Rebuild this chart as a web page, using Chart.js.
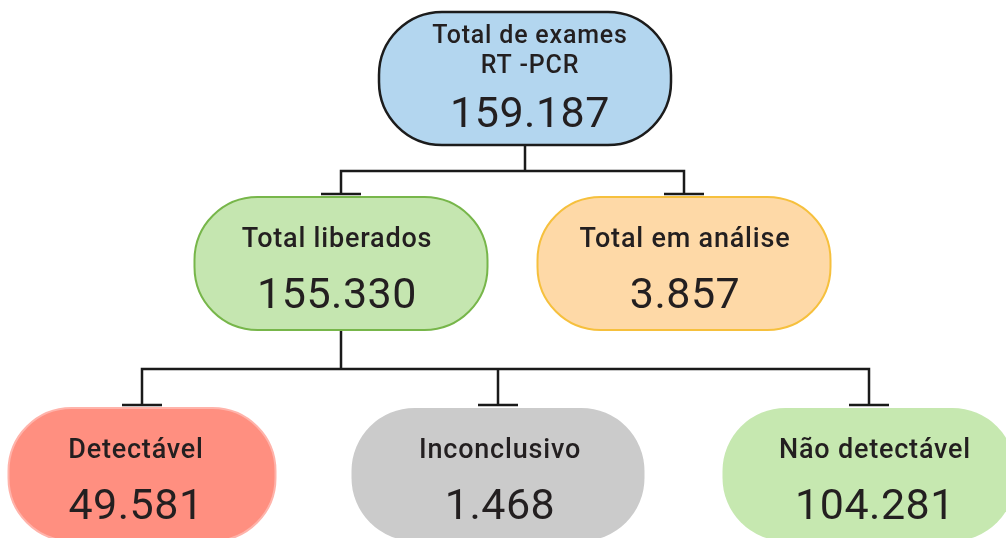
<!DOCTYPE html>
<html>
<head>
<meta charset="utf-8">
<script src="https://cdn.jsdelivr.net/npm/chart.js@4.4.0/dist/chart.umd.min.js"></script>
<style>
html, body { margin: 0; padding: 0; background: #fff; }
#wrap { width: 1006px; height: 538px; }
</style>
</head>
<body>
<div id="wrap"><canvas id="tree"></canvas></div>
<script>
// data
var nodeTitles = [['Total de exames', 'RT -PCR'], ['Total liberados'], ['Total em análise'], ['Detectável'], ['Inconclusivo'], ['Não detectável']];
var nodeValues = [159187, 155330, 3857, 49581, 1468, 104281];
var nodeParents = [-1, 0, 0, 1, 1, 1];

// layout (axis units = pixels of the 1006x538 area)
var nodeX = [525, 341, 684, 142, 498, 869];
var levelY = [78.5, 263.5, 474.5];
var nodeLevel = [0, 1, 1, 2, 2, 2];
var boxW = [292, 293, 293, 267, 293, 293];
var boxH = 133;
var textDx = [5, -4, 1, -6, 2, 6];

// styles
var fills = ['#b3d6ef', '#c5e6b0', '#fed9a7', '#ff8f80', '#cbcbcb', '#c6e8b0'];
var strokes = ['#1c1c1c', '#77b64a', '#f6c03d', '#ffb3aa', null, null];
var strokeW = [2.5, 2, 2, 2, 0, 0];

function fmt(v) {
    return String(v).replace(/\B(?=(\d{3})+(?!\d))/g, '.');
}

// build elbow connectors from the tree structure
var links = [];
function gap() { links.push({x: 0, y: null}); }
var parentsDone = {};
nodeParents.forEach(function (p) {
    if (p < 0 || parentsDone[p]) return;
    parentsDone[p] = true;
    var kids = [];
    nodeParents.forEach(function (q, j) { if (q === p) kids.push(j); });
    var pBottom = levelY[nodeLevel[p]] + boxH / 2;
    var cTop = levelY[nodeLevel[kids[0]]] - boxH / 2;
    var elbow = (pBottom + cTop) / 2;
    var bar = cTop - 3;
    var xs = kids.map(function (k) { return nodeX[k]; });
    var minX = Math.min.apply(null, xs), maxX = Math.max.apply(null, xs);
    links.push({x: nodeX[p], y: pBottom}, {x: nodeX[p], y: elbow}); gap();
    links.push({x: minX, y: bar}, {x: minX, y: elbow}, {x: maxX, y: elbow}, {x: maxX, y: bar}); gap();
    kids.forEach(function (k) {
        if (nodeX[k] !== minX && nodeX[k] !== maxX) {
            links.push({x: nodeX[k], y: elbow}, {x: nodeX[k], y: bar}); gap();
        }
        links.push({x: nodeX[k] - 20, y: bar}, {x: nodeX[k] + 20, y: bar}); gap();
    });
});

var boxPlugin = {
    id: 'boxes',
    afterDatasetsDraw: function (chart) {
        var ctx = chart.ctx;
        var xs = chart.scales.x, ys = chart.scales.y;
        ctx.save();
        nodeValues.forEach(function (v, i) {
            var cx = xs.getPixelForValue(nodeX[i]);
            var cy = ys.getPixelForValue(levelY[nodeLevel[i]]);
            var w = boxW[i];
            var top = cy - boxH / 2;
            ctx.beginPath();
            ctx.roundRect(cx - w / 2, top, w, boxH, 63);
            ctx.fillStyle = fills[i];
            ctx.fill();
            if (strokes[i]) {
                ctx.lineWidth = strokeW[i];
                ctx.strokeStyle = strokes[i];
                ctx.stroke();
            }
            var tx = cx + textDx[i];
            var lines = nodeTitles[i];
            ctx.fillStyle = '#231f20';
            ctx.textAlign = 'center';
            ctx.textBaseline = 'middle';
            ctx.letterSpacing = '0.8px';
            ctx.font = '500 ' + (lines.length > 1 ? 25 : 27) + 'px Roboto';
            lines.forEach(function (t, k) {
                var ly = lines.length > 1 ? top + 25 + k * 30 : top + 43;
                ctx.fillText(t, tx, ly);
            });
            ctx.letterSpacing = '0.5px';
            ctx.font = '400 43px Roboto';
            ctx.fillText(fmt(v), tx, lines.length > 1 ? top + 104 : top + 100);
        });
        ctx.restore();
    }
};

new Chart(document.getElementById('tree'), {
    type: 'scatter',
    data: {
        datasets: [{
            label: 'links',
            data: links,
            showLine: true,
            spanGaps: false,
            borderColor: '#1a1a1a',
            borderWidth: 2.5,
            borderJoinStyle: 'miter',
            pointRadius: 0,
            pointHoverRadius: 0
        }]
    },
    options: {
        responsive: true,
        maintainAspectRatio: false,
        animation: false,
        layout: { padding: 0 },
        plugins: { legend: { display: false }, tooltip: { enabled: false } },
        scales: {
            x: { type: 'linear', min: 0, max: 1006, display: false },
            y: { type: 'linear', min: 0, max: 538, reverse: true, display: false }
        }
    },
    plugins: [boxPlugin]
});
</script>
</body>
</html>
